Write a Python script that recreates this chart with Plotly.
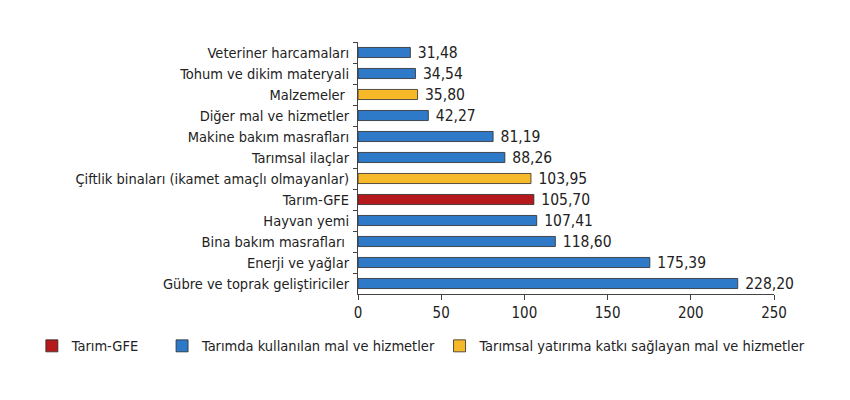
import plotly.graph_objects as go

# categories top -> bottom
kategoriler = [
    "Veteriner harcamaları",
    "Tohum ve dikim materyali",
    "Malzemeler ",
    "Diğer mal ve hizmetler",
    "Makine bakım masrafları",
    "Tarımsal ilaçlar",
    "Çiftlik binaları (ikamet amaçlı olmayanlar)",
    "Tarım-GFE",
    "Hayvan yemi",
    "Bina bakım masrafları ",
    "Enerji ve yağlar",
    "Gübre ve toprak geliştiriciler",
]
degerler = [31.48, 34.54, 35.80, 42.27, 81.19, 88.26, 103.95, 105.70, 107.41, 118.60, 175.39, 228.20]
gruplar = ["k", "k", "y", "k", "k", "k", "y", "g", "k", "k", "k", "k"]

seriler = [
    ("g", "Tarım-GFE", "#B5191B", "legend"),
    ("k", "Tarımda kullanılan mal ve hizmetler", "#2F7AC8", "legend2"),
    ("y", "Tarımsal yatırıma katkı sağlayan mal ve hizmetler", "#F6B929", "legend3"),
]

yazi = "DejaVu Sans Condensed, Liberation Sans"

fig = go.Figure()
for kod, ad, renk, lg in seriler:
    ys = [k for k, g in zip(kategoriler, gruplar) if g == kod]
    xs = [v for v, g in zip(degerler, gruplar) if g == kod]
    fig.add_trace(go.Bar(
        x=xs, y=ys, orientation="h", name=ad, legend=lg,
        marker=dict(color=renk, line=dict(color="#2b2b2b", width=0.8)),
        width=0.48,
        texttemplate="\u00a0%{x:.2f}", textposition="outside",
        constraintext="none",
        textfont=dict(size=15.5, color="#222"),
        cliponaxis=False,
    ))

# three separate legends so each item sits where the original has it
lg_ortak = dict(orientation="h", y=-0.206, xanchor="left", yanchor="middle",
                font=dict(size=14.5), bgcolor="rgba(0,0,0,0)")

fig.update_layout(
    width=850, height=400,
    barmode="relative",
    separators=",.",
    paper_bgcolor="white", plot_bgcolor="white",
    font=dict(family=yazi, size=14.5, color="#222"),
    margin=dict(l=349.5, r=84, t=34, b=114, autoexpand=False),
    showlegend=True,
    legend=dict(x=-0.784, **lg_ortak),
    legend2=dict(x=-0.471, **lg_ortak),
    legend3=dict(x=0.196, **lg_ortak),
)
fig.update_xaxes(
    range=[0, 250], tickvals=[0, 50, 100, 150, 200, 250],
    showgrid=False, zeroline=False,
    showline=True, linecolor="#444", linewidth=1,
    ticks="outside", ticklen=5, tickcolor="#444",
    tickfont=dict(size=15),
)
fig.update_yaxes(
    categoryorder="array", categoryarray=kategoriler, autorange="reversed",
    showgrid=False, showline=True, linecolor="#444", linewidth=1,
    ticks="outside", tickson="boundaries", ticklen=4, tickcolor="#444",
    ticklabelstandoff=5,
)

fig.write_html("out.html")
